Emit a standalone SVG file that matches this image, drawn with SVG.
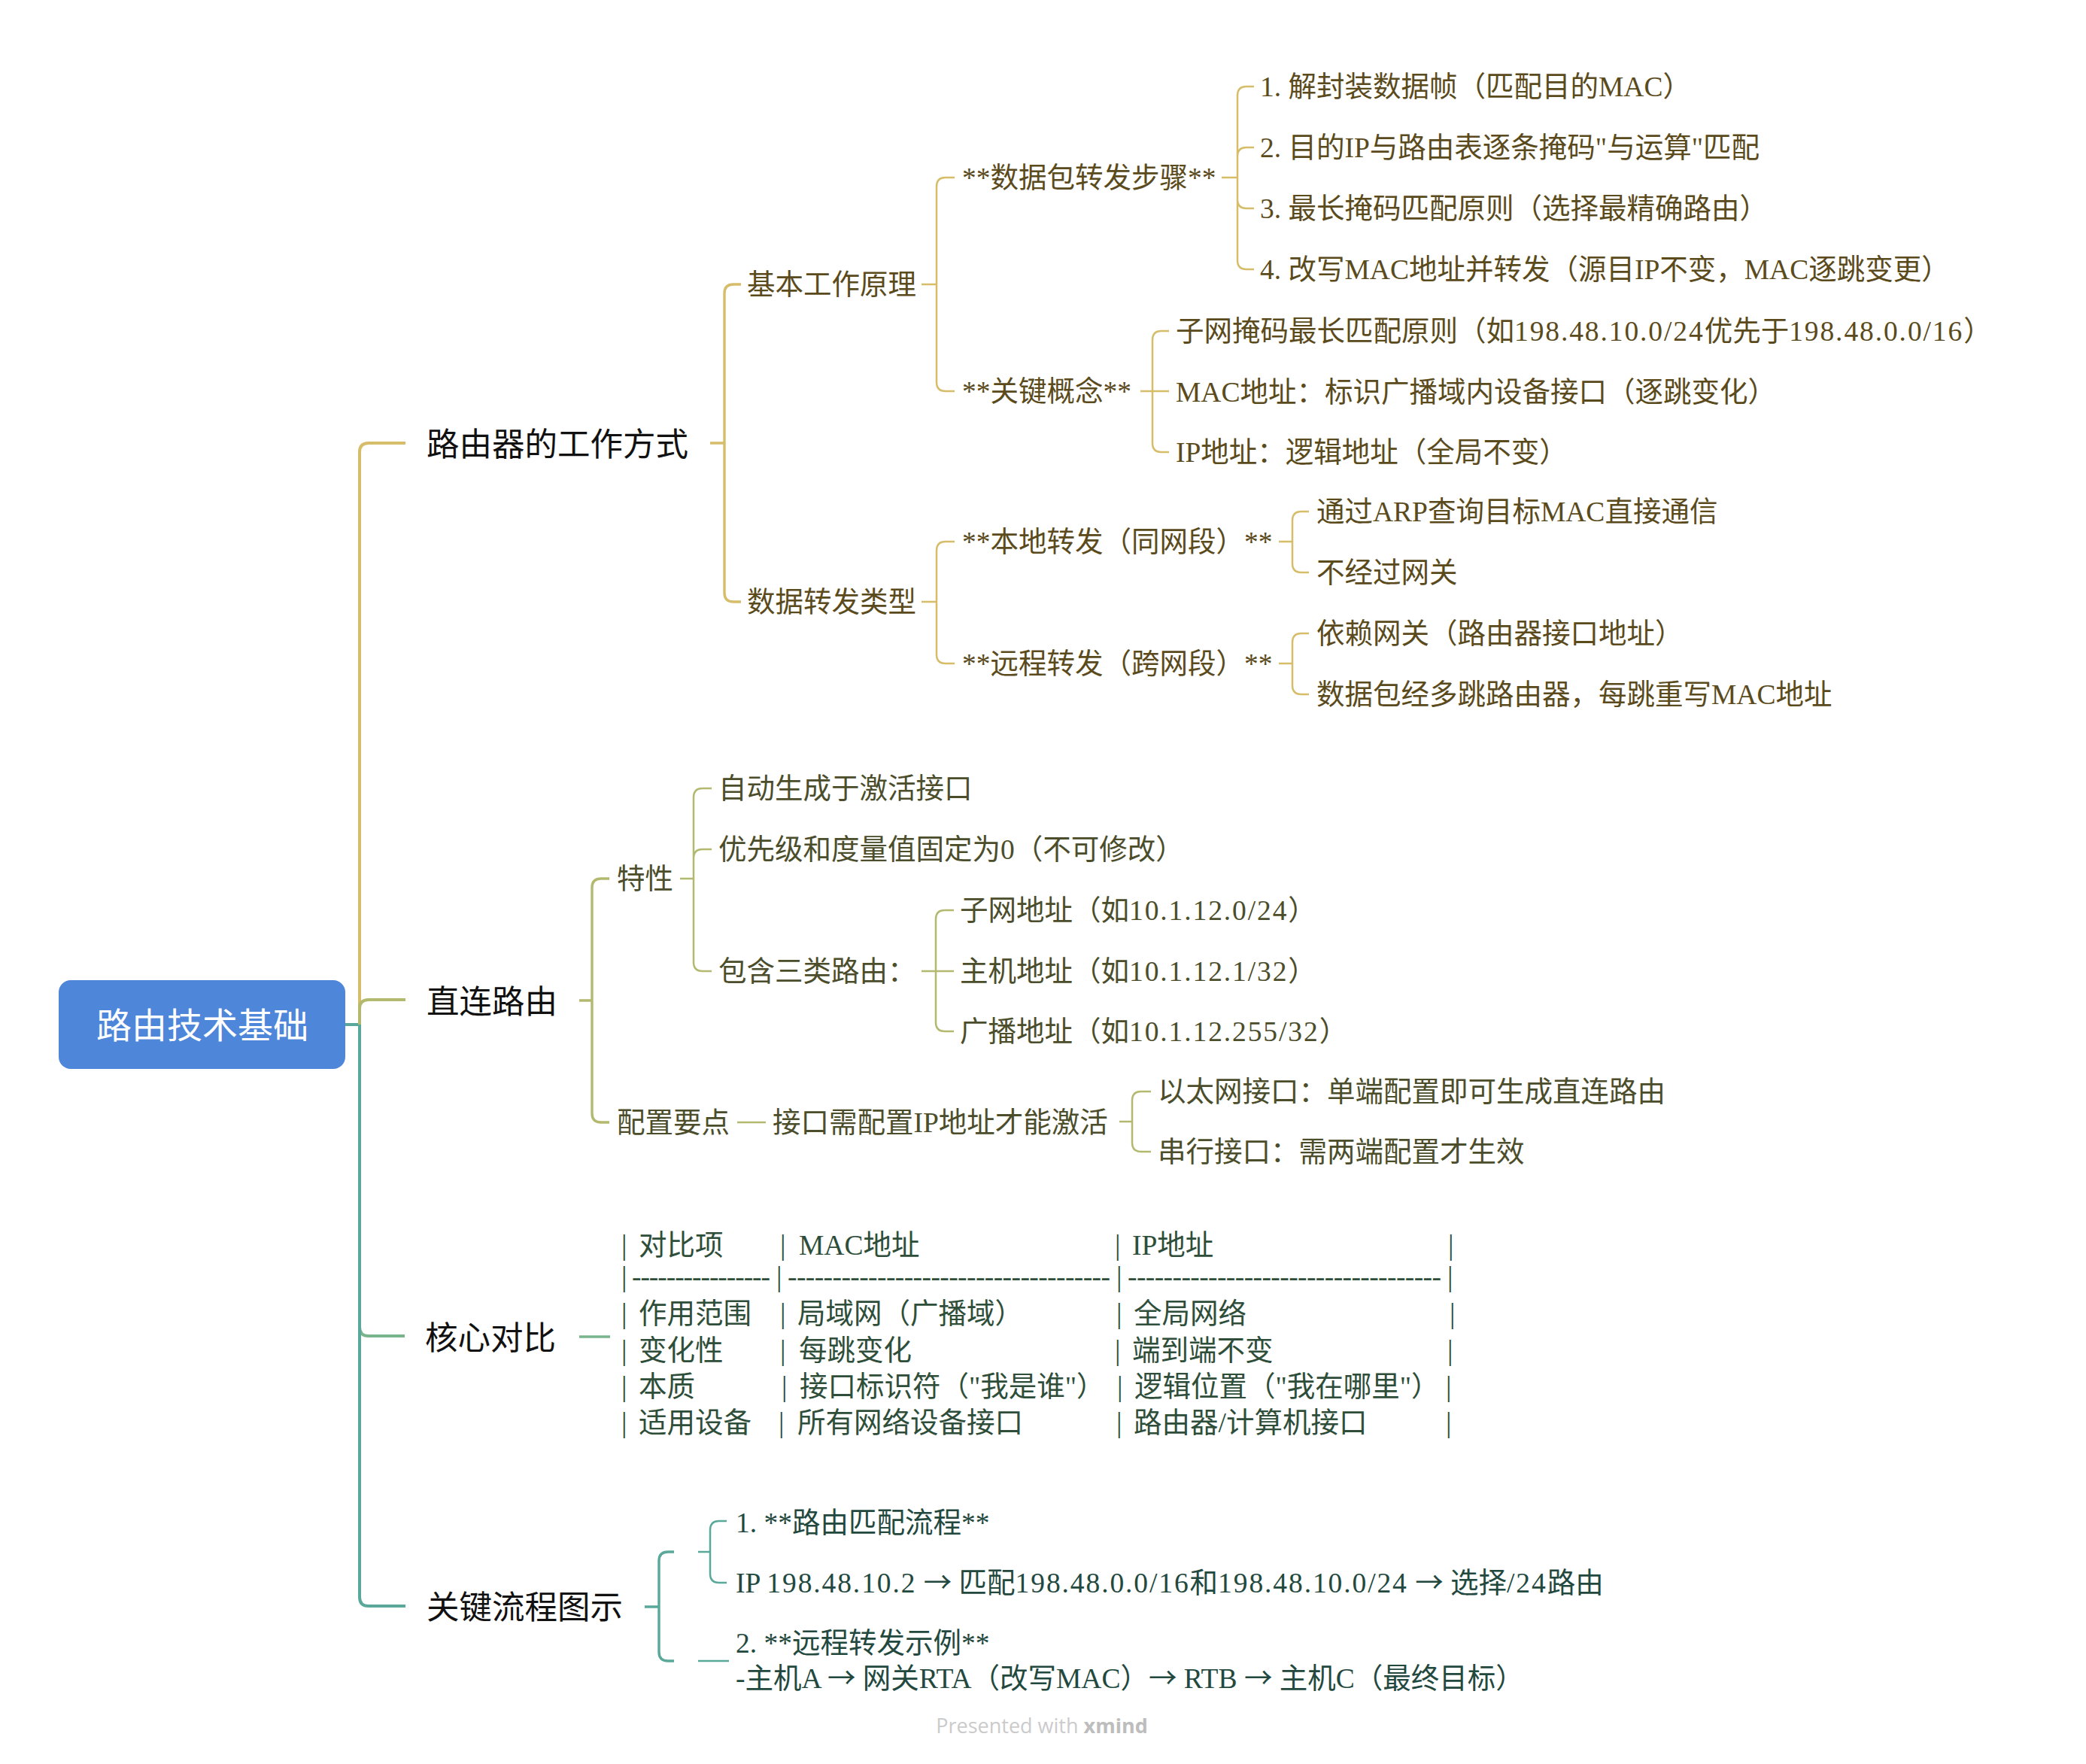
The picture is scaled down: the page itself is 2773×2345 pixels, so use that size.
<svg xmlns="http://www.w3.org/2000/svg" width="2773" height="2345" viewBox="0 0 2773 2345">
<style>
text{font-family:"Liberation Serif","Noto Sans CJK SC",serif;}
.t{font-size:37.5px;}
.l1{font-size:43.5px;fill:#111111;}
.gold{fill:#5b4b1c;}
.olive{fill:#4b4d2b;}
.green{fill:#2e4e3a;}
.teal{fill:#23493f;}
.num{letter-spacing:1.9px;}
.ar{font-family:"Noto Sans CJK SC",sans-serif;}
.ln{fill:none;stroke-linejoin:round;}
.w1{stroke-width:4;}
.w2{stroke-width:3.4;}
.w3{stroke-width:2.5;}
.sg{stroke:#d6bd69;}
.so{stroke:#b3b96f;}
.sn{stroke:#78b58c;}
.st{stroke:#5aa89a;}
</style>
<rect width="2773" height="2345" fill="#ffffff"/>
<g id="connectors">
  <path class="ln w1 sn" d="M478 1362 V1764 Q478 1776 490 1776 H538"/>
  <path class="ln w1 st" d="M459 1362 H478 M478 1362 V2123 Q478 2135 490 2135 H539"/>
  <path class="ln w1 sg" d="M478 1362 V601 Q478 589 490 589 H539"/>
  <path class="ln w1 so" d="M478 1362 V1341 Q478 1329 490 1329 H539"/>
  <!-- gold subtree -->
  <path class="ln w2 sg" d="M944 589 H963 M963 589 V390 Q963 378 975 378 H985 M963 589 V788 Q963 800 975 800 H985"/>
  <path class="ln w3 sg" d="M1225 378 H1245 M1245 378 V248 Q1245 236 1257 236 H1269 M1245 378 V508 Q1245 520 1257 520 H1269"/>
  <path class="ln w3 sg" d="M1225 800 H1245 M1245 800 V732 Q1245 720 1257 720 H1269 M1245 800 V870 Q1245 882 1257 882 H1269"/>
  <path class="ln w3 sg" d="M1624 236 H1645 M1645 236 V127 Q1645 115 1657 115 H1667 M1645 236 V208 Q1645 196 1657 196 H1667 M1645 236 V265 Q1645 277 1657 277 H1667 M1645 236 V346 Q1645 358 1657 358 H1667"/>
  <path class="ln w3 sg" d="M1516 520 H1554 M1532 520 V452 Q1532 440 1544 440 H1554 M1532 520 V589 Q1532 601 1544 601 H1554"/>
  <path class="ln w3 sg" d="M1700 720 H1718 M1718 720 V692 Q1718 680 1730 680 H1740 M1718 720 V749 Q1718 761 1730 761 H1740"/>
  <path class="ln w3 sg" d="M1700 882 H1718 M1718 882 V854 Q1718 842 1730 842 H1740 M1718 882 V911 Q1718 923 1730 923 H1740"/>
  <!-- olive subtree -->
  <path class="ln w2 so" d="M770 1330 H787 M787 1330 V1180 Q787 1168 799 1168 H810 M787 1330 V1480 Q787 1492 799 1492 H810"/>
  <path class="ln w3 so" d="M904 1168 H922 M922 1168 V1060 Q922 1048 934 1048 H946 M922 1168 V1141 Q922 1129 934 1129 H946 M922 1168 V1279 Q922 1291 934 1291 H946"/>
  <path class="ln w3 so" d="M980 1492 H1018"/>
  <path class="ln w3 so" d="M1225 1291 H1268 M1244 1291 V1222 Q1244 1210 1256 1210 H1268 M1244 1291 V1359 Q1244 1371 1256 1371 H1268"/>
  <path class="ln w3 so" d="M1488 1491 H1505 M1505 1491 V1463 Q1505 1451 1517 1451 H1530 M1505 1491 V1519 Q1505 1531 1517 1531 H1530"/>
  <!-- green -->
  <path class="ln w2 sn" d="M770 1777 H811"/>
  <!-- teal subtree -->
  <path class="ln w2 st" d="M857 2136 H876 M876 2136 V2075 Q876 2063 888 2063 H896 M876 2136 V2196 Q876 2208 888 2208 H896"/>
  <path class="ln w3 st" d="M928 2063 H944 M944 2063 V2034 Q944 2022 956 2022 H966 M944 2063 V2092 Q944 2104 956 2104 H966"/>
  <path class="ln w3 st" d="M928 2208 H969"/>
</g>
<g id="root">
  <rect x="78" y="1303" width="381" height="118" rx="16" fill="#4e86da"/>
  <text x="269" y="1380" text-anchor="middle" font-size="47" fill="#ffffff">路由技术基础</text>
</g>
<g id="n-router-work"><text class="l1" x="567" y="606">路由器的工作方式</text></g>
<g id="n-direct"><text class="l1" x="567" y="1347">直连路由</text></g>
<g id="n-compare"><text class="l1" x="565" y="1794">核心对比</text></g>
<g id="n-flow"><text class="l1" x="567" y="2152">关键流程图示</text></g>

<g id="n-basic"><text class="t gold" x="993" y="391">基本工作原理</text></g>
<g id="n-fwdtype"><text class="t gold" x="993" y="813">数据转发类型</text></g>
<g id="n-steps"><text class="t gold" x="1279" y="249">**数据包转发步骤**</text></g>
<g id="n-keyconcept"><text class="t gold" x="1279" y="533">**关键概念**</text></g>
<g id="n-local"><text class="t gold" x="1279" y="733">**本地转发（同网段）**</text></g>
<g id="n-remote"><text class="t gold" x="1279" y="895">**远程转发（跨网段）**</text></g>
<g id="n-step1"><text class="t gold" x="1675" y="128">1. 解封装数据帧（匹配目的MAC）</text></g>
<g id="n-step2"><text class="t gold" x="1675" y="209">2. 目的IP与路由表逐条掩码"与运算"匹配</text></g>
<g id="n-step3"><text class="t gold" x="1675" y="290">3. 最长掩码匹配原则（选择最精确路由）</text></g>
<g id="n-step4"><text class="t gold" x="1675" y="371">4. 改写MAC地址并转发（源目IP不变，MAC逐跳变更）</text></g>
<g id="n-kc1"><text class="t gold" x="1563" y="453">子网掩码最长匹配原则（如<tspan class="num">198.48.10.0/24</tspan>优先于<tspan class="num">198.48.0.0/16</tspan>）</text></g>
<g id="n-kc2"><text class="t gold" x="1563" y="534">MAC地址：标识广播域内设备接口（逐跳变化）</text></g>
<g id="n-kc3"><text class="t gold" x="1563" y="614">IP地址：逻辑地址（全局不变）</text></g>
<g id="n-local1"><text class="t gold" x="1750" y="693">通过ARP查询目标MAC直接通信</text></g>
<g id="n-local2"><text class="t gold" x="1750" y="774">不经过网关</text></g>
<g id="n-remote1"><text class="t gold" x="1750" y="855">依赖网关（路由器接口地址）</text></g>
<g id="n-remote2"><text class="t gold" x="1750" y="936">数据包经多跳路由器，每跳重写MAC地址</text></g>

<g id="n-feature"><text class="t olive" x="820" y="1181">特性</text></g>
<g id="n-config"><text class="t olive" x="820" y="1505">配置要点</text></g>
<g id="n-f1"><text class="t olive" x="955" y="1061">自动生成于激活接口</text></g>
<g id="n-f2"><text class="t olive" x="955" y="1142">优先级和度量值固定为0（不可修改）</text></g>
<g id="n-f3"><text class="t olive" x="955" y="1304">包含三类路由：</text></g>
<g id="n-r1"><text class="t olive" x="1276" y="1223">子网地址（如<tspan class="num">10.1.12.0/24</tspan>）</text></g>
<g id="n-r2"><text class="t olive" x="1276" y="1304">主机地址（如<tspan class="num">10.1.12.1/32</tspan>）</text></g>
<g id="n-r3"><text class="t olive" x="1276" y="1384">广播地址（如<tspan class="num">10.1.12.255/32</tspan>）</text></g>
<g id="n-iface"><text class="t olive" x="1027" y="1505">接口需配置IP地址才能激活</text></g>
<g id="n-eth"><text class="t olive" x="1539" y="1464">以太网接口：单端配置即可生成直连路由</text></g>
<g id="n-serial"><text class="t olive" x="1539" y="1544">串行接口：需两端配置才生效</text></g>

<g id="n-table">
  <text class="t green" y="1668"><tspan x="826">|</tspan><tspan x="849">对比项</tspan><tspan x="1037">|</tspan><tspan x="1062">MAC地址</tspan><tspan x="1482">|</tspan><tspan x="1505">IP地址</tspan><tspan x="1925">|</tspan></text>
  <text class="t green" y="1710"><tspan x="826">|</tspan><tspan x="1032">|</tspan><tspan x="1484">|</tspan><tspan x="1924">|</tspan></text>
  <text class="t green" x="840" y="1710" textLength="184" lengthAdjust="spacing">----------------</text>
  <text class="t green" x="1047" y="1710" textLength="429" lengthAdjust="spacing">------------------------------------</text>
  <text class="t green" x="1499" y="1710" textLength="417" lengthAdjust="spacing">-----------------------------------</text>
  <text class="t green" y="1759"><tspan x="826">|</tspan><tspan x="849">作用范围</tspan><tspan x="1037">|</tspan><tspan x="1060">局域网（广播域）</tspan><tspan x="1484">|</tspan><tspan x="1507">全局网络</tspan><tspan x="1927">|</tspan></text>
  <text class="t green" y="1808"><tspan x="826">|</tspan><tspan x="849">变化性</tspan><tspan x="1037">|</tspan><tspan x="1062">每跳变化</tspan><tspan x="1482">|</tspan><tspan x="1505">端到端不变</tspan><tspan x="1924">|</tspan></text>
  <text class="t green" y="1856"><tspan x="826">|</tspan><tspan x="849">本质</tspan><tspan x="1039">|</tspan><tspan x="1063">接口标识符（"我是谁"）</tspan><tspan x="1485">|</tspan><tspan x="1508">逻辑位置（"我在哪里"）</tspan><tspan x="1922">|</tspan></text>
  <text class="t green" y="1904"><tspan x="826">|</tspan><tspan x="849">适用设备</tspan><tspan x="1035">|</tspan><tspan x="1060">所有网络设备接口</tspan><tspan x="1484">|</tspan><tspan x="1507">路由器/计算机接口</tspan><tspan x="1922">|</tspan></text>
</g>

<g id="n-empty1"></g>
<g id="n-empty2"></g>
<g id="n-flow1"><text class="t teal" x="978" y="2037">1. **路由匹配流程**</text></g>
<g id="n-flow1a"><text class="t teal" x="978" y="2117">IP <tspan class="num">198.48.10.2</tspan> <tspan class="ar">→</tspan> 匹配<tspan class="num">198.48.0.0/16</tspan>和<tspan class="num">198.48.10.0/24</tspan> <tspan class="ar">→</tspan> 选择<tspan class="num">/24</tspan>路由</text></g>
<g id="n-flow2"><text class="t teal" x="978" y="2197">2. **远程转发示例**</text><text class="t teal" x="978" y="2244">-主机A <tspan class="ar">→</tspan> 网关RTA（改写MAC）<tspan class="ar">→</tspan> RTB <tspan class="ar">→</tspan> 主机C（最终目标）</text></g>

<g id="watermark"><text x="1385" y="2304" text-anchor="middle" font-size="27" style="font-family:'Open Sans','Liberation Sans',sans-serif"><tspan fill="#cbcbcb">Presented with </tspan><tspan fill="#bdbdbd" font-weight="bold">xmind</tspan></text></g>
</svg>
